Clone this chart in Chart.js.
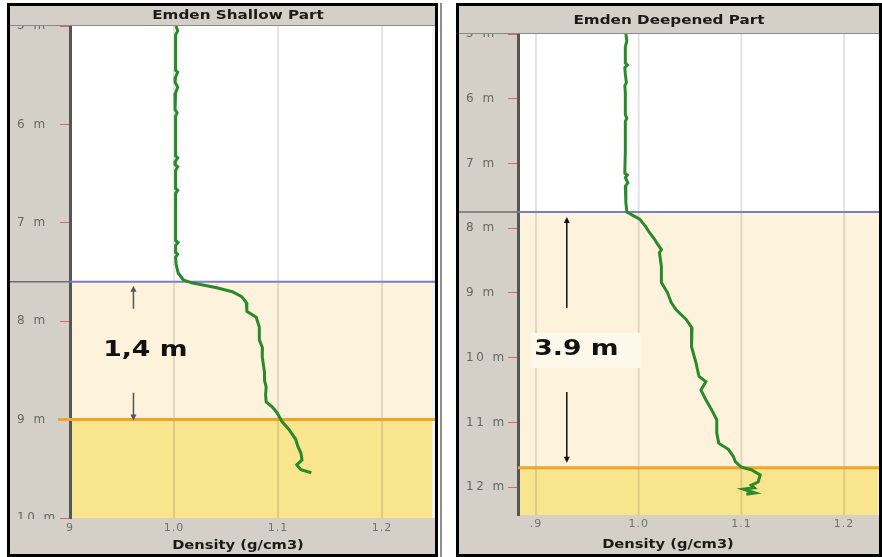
<!DOCTYPE html>
<html><head><meta charset="utf-8">
<script src="https://cdn.jsdelivr.net/npm/chart.js@4.4.1/dist/chart.umd.min.js"></script>
<style>
html,body{margin:0;padding:0;background:#fff;width:882px;height:557px;overflow:hidden;}
.panel{position:absolute;top:3px;border:3px solid #000;background:#d4d0c8;}
#p1{left:7px;width:425px;height:548px;}
#p2{left:456px;width:420px;height:548px;}
#sep{position:absolute;left:440px;top:3px;width:2px;height:554px;background:#8e8e8e;}
canvas{display:block;}
</style></head><body>
<div id="p1" class="panel"><canvas id="c1" width="425" height="548"></canvas></div>
<div id="sep"></div>
<div id="p2" class="panel"><canvas id="c2" width="420" height="548"></canvas></div>
<script>
// ---------- DATA ----------
const shallowTitle = 'Emden Shallow Part';
const deepTitle = 'Emden Deepened Part';
const densityAxisTitle = 'Density (g/cm3)';

const shallowDepth = [5.00,5.05,5.09,5.45,5.47,5.52,5.57,5.62,5.68,5.85,5.88,5.92,6.32,6.34,6.37,6.41,6.43,6.47,6.65,6.67,6.70,7.18,7.20,7.23,7.30,7.32,7.35,7.42,7.51,7.58,7.61,7.66,7.70,7.75,7.81,7.90,7.96,8.06,8.19,8.27,8.36,8.45,8.52,8.60,8.67,8.75,8.82,8.87,8.93,9.02,9.10,9.20,9.27,9.34,9.41,9.46,9.51,9.54];
const shallowDensity = [1.002,1.0035,1.0015,1.0015,1.0035,1.0015,1.001,1.0035,1.0015,1.001,1.003,1.0015,1.0015,1.0035,1.0015,1.001,1.0035,1.0015,1.0015,1.0035,1.0015,1.0015,1.0038,1.0015,1.0015,1.0035,1.0015,1.002,1.004,1.009,1.017,1.041,1.056,1.065,1.0695,1.070,1.079,1.082,1.082,1.085,1.0848,1.086,1.087,1.087,1.0886,1.088,1.0886,1.0943,1.099,1.1038,1.1105,1.117,1.119,1.122,1.123,1.118,1.122,1.132];

const deepDepth = [5.00,5.10,5.20,5.45,5.48,5.52,5.62,5.75,5.80,5.90,6.25,6.30,6.35,6.80,7.15,7.18,7.22,7.30,7.35,7.60,7.75,7.86,7.98,8.07,8.16,8.22,8.33,8.38,8.59,8.84,8.99,9.15,9.26,9.41,9.54,9.61,9.83,10.08,10.29,10.37,10.50,10.65,10.81,10.96,11.16,11.32,11.42,11.53,11.61,11.69,11.73,11.81,11.92,11.97,12.01,12.03,12.09,12.11];
const deepDensity = [0.9875,0.9885,0.987,0.987,0.989,0.9865,0.987,0.988,0.9865,0.987,0.987,0.9885,0.987,0.987,0.9865,0.989,0.987,0.9895,0.987,0.9875,0.9885,1.001,1.007,1.0106,1.015,1.0173,1.0221,1.0202,1.0221,1.0221,1.0279,1.0317,1.0365,1.0462,1.0519,1.051,1.0519,1.0558,1.0587,1.0654,1.0606,1.0654,1.0712,1.076,1.076,1.0779,1.0875,1.0923,1.0942,1.100,1.1096,1.1183,1.1163,1.1096,1.1125,1.102,1.1135,1.1048];

// layer interfaces (top of halocline, bottom of halocline), in m
const shallowLayers = [7.6, 9.0];
const deepLayers = [7.75, 11.7];

const shallowDepthTicks = [5,6,7,8,9,10];
const shallowDepthLabels = ['5 m','6 m','7 m','8 m','9 m','10 m'];
const deepDepthTicks = [5,6,7,8,9,10,11,12];
const deepDepthLabels = ['5 m','6 m','7 m','8 m','9 m','10 m','11 m','12 m'];

const densityTicks = [0.9,1.0,1.1,1.2];
const shallowDensityLabels = ['9','1.0','1.1','1.2'];
const deepDensityLabels = ['.9','1.0','1.1','1.2'];

const shallowRange = {xMin:0.9, xMax:1.248, yMin:5, yMax:10};
const deepRange = {xMin:0.8825, xMax:1.233, yMin:5, yMax:12.43};

const shallowNote = {text:'1,4 m', density:0.9724, depth:8.3, arrowDensity:0.961};
const deepNote = {text:'3.9 m', density:0.9394, depth:9.88, arrowDensity:0.930};

// ---------- STYLE ----------
const PANEL_GRAY = '#d4d0c8';
const CREAM = '#fdf3dd';
const YELLOW = '#f8e58d';
const GREEN = '#288a28';
const BLUE = '#7c7ccc';
const ORANGE = '#f0a428';
const FONT = 'DejaVu Sans';

function stretchText(ctx, text, x, y, font, sx, color) {
  ctx.save();
  ctx.letterSpacing = '0px';
  ctx.translate(x, y);
  ctx.scale(sx, 1);
  ctx.font = font;
  ctx.fillStyle = color;
  ctx.textAlign = 'center';
  ctx.textBaseline = 'middle';
  ctx.fillText(text, 0, 0);
  ctx.restore();
}

function arrowHead(ctx, x, y, dir, color) {
  ctx.fillStyle = color;
  ctx.beginPath();
  ctx.moveTo(x, y);
  ctx.lineTo(x - 3, y - dir * 6);
  ctx.lineTo(x + 3, y - dir * 6);
  ctx.closePath();
  ctx.fill();
}

function makePlugin(s) {
  return {
    id: 'profile' + s.key,
    beforeDraw(chart) {
      const ctx = chart.ctx, a = chart.chartArea, y = chart.scales.y;
      ctx.save();
      ctx.fillStyle = PANEL_GRAY; ctx.fillRect(0, 0, chart.width, chart.height);
      ctx.fillStyle = '#ffffff'; ctx.fillRect(a.left, a.top, a.right - a.left, a.bottom - a.top);
      const y1 = y.getPixelForValue(s.layers[0]), y2 = y.getPixelForValue(s.layers[1]);
      ctx.fillStyle = CREAM; ctx.fillRect(a.left, y1, a.right - a.left, y2 - y1);
      ctx.fillStyle = YELLOW; ctx.fillRect(a.left, y2, a.right - a.left, a.bottom - y2);
      ctx.fillStyle = '#f2f2f2'; ctx.fillRect(a.right, a.top, chart.width - a.right, a.bottom - a.top);
      ctx.restore();
      ctx.letterSpacing = '2.5px';
    },
    beforeDatasetsDraw(chart) {
      const ctx = chart.ctx, a = chart.chartArea, x = chart.scales.x, y = chart.scales.y;
      ctx.save();
      ctx.letterSpacing = '0px';
      ctx.strokeStyle = 'rgba(0,0,0,0.11)'; ctx.lineWidth = 2;
      densityTicks.forEach(v => {
        const px = x.getPixelForValue(v);
        if (px > a.left + 3 && px < a.right) {
          ctx.beginPath(); ctx.moveTo(px, a.top); ctx.lineTo(px, a.bottom); ctx.stroke();
        }
      });
      const y1 = y.getPixelForValue(s.layers[0]), y2 = y.getPixelForValue(s.layers[1]);
      ctx.strokeStyle = '#6e6e6e'; ctx.lineWidth = 1.5;
      ctx.beginPath(); ctx.moveTo(0, y1); ctx.lineTo(a.left, y1); ctx.stroke();
      ctx.strokeStyle = BLUE; ctx.lineWidth = 2;
      ctx.beginPath(); ctx.moveTo(a.left, y1); ctx.lineTo(chart.width, y1); ctx.stroke();
      ctx.strokeStyle = ORANGE; ctx.lineWidth = 3;
      ctx.beginPath(); ctx.moveTo(a.left - s.orangeLead, y2); ctx.lineTo(chart.width, y2); ctx.stroke();
      ctx.restore();
    },
    afterDatasetsDraw(chart) {
      const ctx = chart.ctx, a = chart.chartArea;
      ctx.save();
      ctx.fillStyle = PANEL_GRAY;
      ctx.fillRect(0, 0, chart.width, a.top);
      ctx.fillRect(0, a.bottom + 1, chart.width, chart.height - a.bottom - 1);
      ctx.strokeStyle = '#8a8a8a'; ctx.lineWidth = 1;
      ctx.beginPath(); ctx.moveTo(0, a.top - 0.5); ctx.lineTo(chart.width, a.top - 0.5); ctx.stroke();
      ctx.restore();
      ctx.letterSpacing = '1px';
    },
    afterDraw(chart) {
      const ctx = chart.ctx, x = chart.scales.x, y = chart.scales.y;
      ctx.letterSpacing = '0px';
      stretchText(ctx, s.title, s.titleX, s.titleY, 'bold 13px "' + FONT + '"', 1.17, '#1a1a1a');
      stretchText(ctx, densityAxisTitle, s.axisX, s.axisY, 'bold 13px "' + FONT + '"', 1.13, '#1a1a1a');
      const n = s.note;
      const ax = x.getPixelForValue(n.arrowDensity);
      const ty = y.getPixelForValue(n.depth);
      const tx = x.getPixelForValue(n.density);
      const yTop = y.getPixelForValue(s.layers[0]) + s.tipTop;
      const yBot = y.getPixelForValue(s.layers[1]) + s.tipBot;
      ctx.save();
      if (s.noteBox) {
        ctx.fillStyle = '#fef8eb';
        ctx.fillRect(tx - 46, ty - 17, 110, 35);
      }
      ctx.strokeStyle = s.arrowColor; ctx.lineWidth = 1.5;
      ctx.beginPath(); ctx.moveTo(ax, yTop + 4); ctx.lineTo(ax, ty - 42); ctx.stroke();
      ctx.beginPath(); ctx.moveTo(ax, ty + 42); ctx.lineTo(ax, yBot - 4); ctx.stroke();
      arrowHead(ctx, ax, yTop, -1, s.arrowColor);
      arrowHead(ctx, ax, yBot, 1, s.arrowColor);
      ctx.restore();
      stretchText(ctx, n.text, tx, ty, 'bold 21px "' + FONT + '"', 1.27, '#111111');
    }
  };
}

function makeChart(canvasId, s) {
  const pts = s.density.map((d, i) => ({x: d, y: s.depth[i]}));
  return new Chart(document.getElementById(canvasId), {
    type: 'scatter',
    data: {datasets: [{data: pts, showLine: true, pointRadius: 0, borderColor: GREEN, borderWidth: 3, tension: 0, fill: false}]},
    options: {
      responsive: false, animation: false, events: [],
      layout: {padding: s.padding},
      plugins: {legend: {display: false}, tooltip: {enabled: false}, title: {display: false}},
      scales: {
        x: {
          type: 'linear', position: 'bottom', min: s.range.xMin, max: s.range.xMax,
          grid: {display: false, drawTicks: false}, border: {display: false},
          afterBuildTicks: sc => { sc.ticks = densityTicks.map(v => ({value: v})); },
          afterFit: sc => { sc.height = s.xHeight; },
          ticks: {z: 1, color: '#707070', font: {family: FONT, size: 11}, padding: s.xPad, maxRotation: 0, autoSkip: false,
                  callback: (v, i) => s.xLabels[i]}
        },
        y: {
          type: 'linear', position: 'left', reverse: true, min: s.range.yMin, max: s.range.yMax,
          grid: {drawOnChartArea: false, drawTicks: true, tickLength: 10, color: '#e06060', tickColor: '#e06060', lineWidth: 1},
          border: {display: true, color: '#555555', width: 3},
          afterBuildTicks: sc => { sc.ticks = s.yTicks.map(v => ({value: v})); },
          afterFit: sc => { sc.width = s.yWidth; },
          ticks: {crossAlign: 'far', color: '#666666', font: {family: FONT, size: 12}, padding: 6, autoSkip: false,
                  callback: (v, i) => s.yLabels[i]}
        }
      }
    },
    plugins: [makePlugin(s)]
  });
}

makeChart('c1', {
  key: 'A', title: shallowTitle, density: shallowDensity, depth: shallowDepth, layers: shallowLayers,
  range: shallowRange, yTicks: shallowDepthTicks, yLabels: shallowDepthLabels, xLabels: shallowDensityLabels,
  note: shallowNote, padding: {left: 7, top: 20, right: 3, bottom: 0}, yWidth: 53, xHeight: 36, xPad: 4,
  titleX: 228, titleY: 10, axisX: 228, axisY: 540, tipTop: 4, tipBot: 1, arrowColor: '#555555', noteBox: false, orangeLead: 12
});
makeChart('c2', {
  key: 'B', title: deepTitle, density: deepDensity, depth: deepDepth, layers: deepLayers,
  range: deepRange, yTicks: deepDepthTicks, yLabels: deepDepthLabels, xLabels: deepDensityLabels,
  note: deepNote, padding: {left: 7, top: 28, right: 1, bottom: 0}, yWidth: 52, xHeight: 39, xPad: 3,
  titleX: 210, titleY: 14.5, axisX: 209, axisY: 539, tipTop: 5, tipBot: -5, arrowColor: '#111111', noteBox: true, orangeLead: 0
});
</script>
</body></html>
